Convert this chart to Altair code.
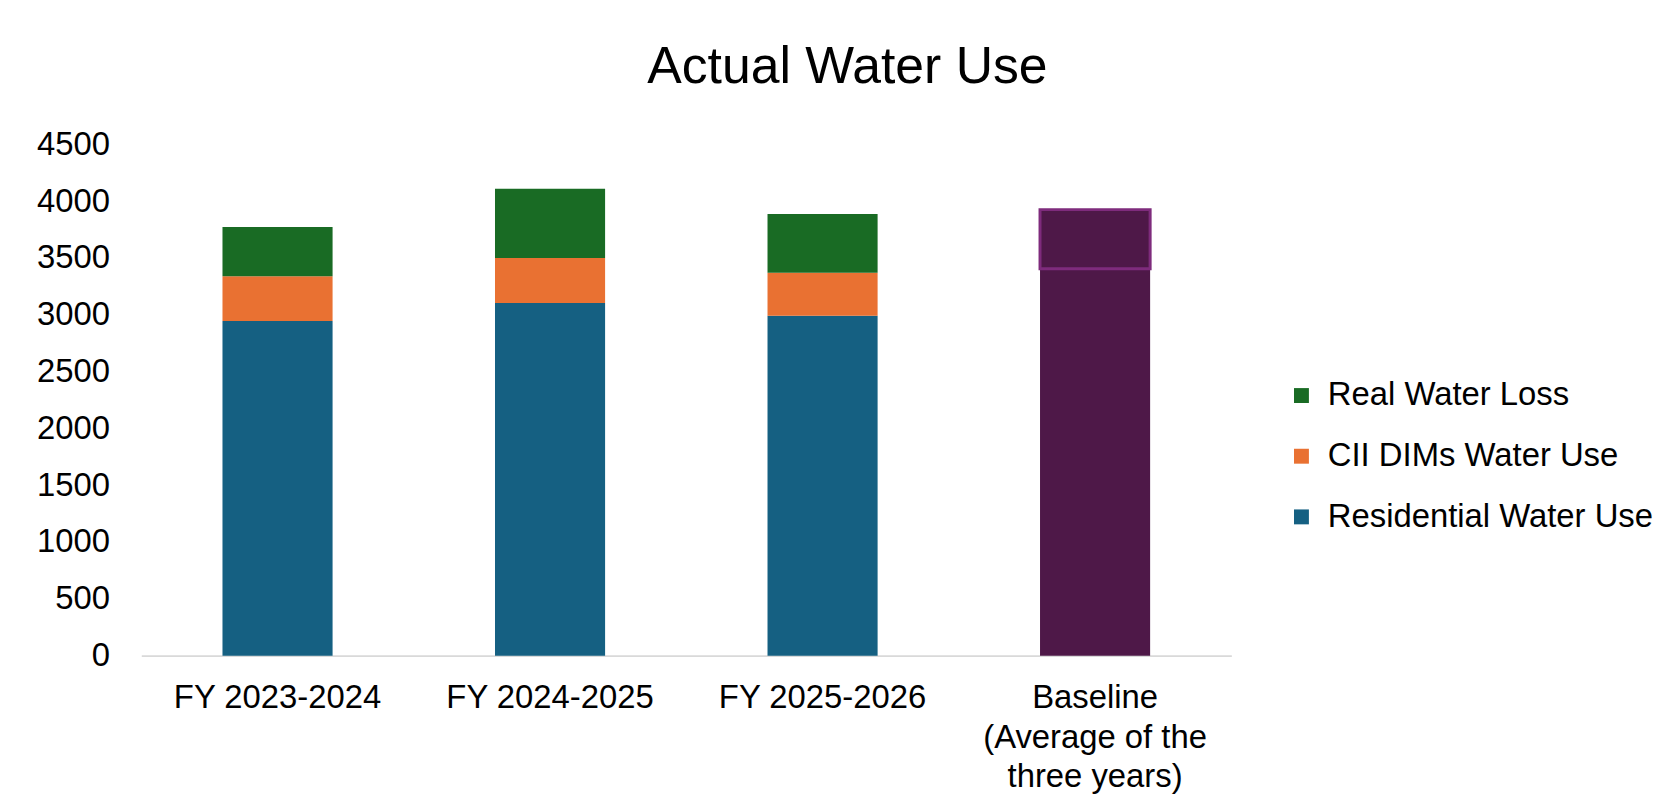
import altair as alt
import pandas as pd

# ---- data ----
years = ["FY 2023-2024", "FY 2024-2025", "FY 2025-2026"]
residential = [2945, 3103, 2991]
cii = [395, 398, 380]
real_loss = [433, 609, 517]

baseline_label = "Baseline (Average of the three years)"
baseline_use = 3406     # lower (purple) part of baseline bar
baseline_loss = 520     # upper outlined part of baseline bar

series_names = ["Real Water Loss", "CII DIMs Water Use", "Residential Water Use"]
series_colors = ["#196B24", "#E97132", "#156082"]
purple = "#4E1848"
purple_outline = "#7E2B7C"

categories = years + [baseline_label]
y_ticks = [0, 500, 1000, 1500, 2000, 2500, 3000, 3500, 4000, 4500]

rows = []
for i, yr in enumerate(years):
    rows.append((yr, "Residential Water Use", residential[i], 0))
    rows.append((yr, "CII DIMs Water Use", cii[i], 1))
    rows.append((yr, "Real Water Loss", real_loss[i], 2))
df = pd.DataFrame(rows, columns=["category", "series", "value", "ord"])

bdf = pd.DataFrame({
    "category": [baseline_label, baseline_label],
    "part": ["use", "loss"],
    "value": [baseline_use, baseline_loss],
    "ord": [0, 1],
})

FONT = "Liberation Sans"

label_expr = ("datum.label == '" + baseline_label + "' ? "
              "['Baseline', '(Average of the', 'three years)'] : datum.label")

x_enc = alt.X(
    "category:N",
    sort=categories,
    scale=alt.Scale(domain=categories, paddingInner=0.596, paddingOuter=0.298),
    axis=alt.Axis(
        title=None, labelAngle=0, labelExpr=label_expr, ticks=False,
        domainColor="#D9D9D9", domainWidth=2, labelFontSize=33,
        labelLineHeight=40, labelPadding=26, labelColor="#000000",
        labelFont=FONT, labelLimit=400,
    ),
)
y_enc = alt.Y(
    "value:Q",
    stack="zero",
    scale=alt.Scale(domain=[0, 4500], nice=False),
    axis=alt.Axis(
        title=None, values=y_ticks, format="d", grid=False, domain=False, ticks=False,
        labelPadding=32, labelFontSize=33, labelColor="#000000", labelFont=FONT,
    ),
)

bars = alt.Chart(df).mark_bar().encode(
    x=x_enc,
    y=y_enc,
    color=alt.Color(
        "series:N",
        scale=alt.Scale(domain=series_names, range=series_colors),
        legend=alt.Legend(
            title=None, orient="none", legendX=1150, legendY=236,
            symbolType="square", symbolSize=225, symbolStrokeWidth=0,
            labelFontSize=33, labelFont=FONT, labelColor="#000000",
            rowPadding=27, labelOffset=10, labelLimit=500,
        ),
    ),
    order=alt.Order("ord:Q"),
)

base = alt.Chart(bdf).mark_bar(color=purple).encode(
    x=x_enc,
    y=y_enc,
    detail="part:N",
    order=alt.Order("ord:Q"),
    stroke=alt.condition("datum.part == 'loss'", alt.value(purple_outline), alt.value(purple)),
    strokeWidth=alt.condition("datum.part == 'loss'", alt.value(3), alt.value(0)),
)

chart = alt.layer(bars, base).properties(
    width=1096,
    height=514,
    background="white",
    padding={"left": 28, "top": 31, "right": 5, "bottom": 5},
    title=alt.TitleParams(
        "Actual Water Use", fontSize=52, font=FONT, fontWeight="normal",
        color="#000000", anchor="middle", dx=162, offset=35,
    ),
).configure_view(strokeWidth=0, stroke=None)

chart.save("out.html", embed_options={"renderer": "svg", "actions": False})
